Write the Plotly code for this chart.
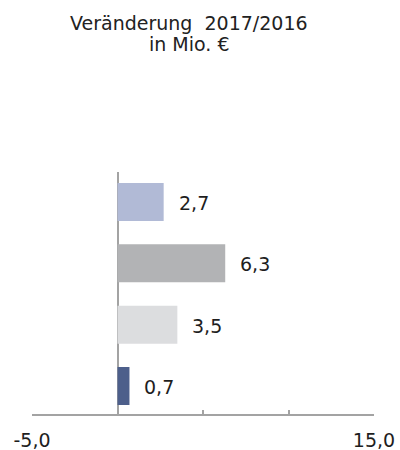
import plotly.graph_objects as go

# Data (bottom to top)
categories = ["Kategorie 4", "Kategorie 3", "Kategorie 2", "Kategorie 1"]
values = [0.7, 3.5, 6.3, 2.7]
value_labels = ["0,7", "3,5", "6,3", "2,7"]
bar_colors = ["#4d5f8b", "#dcdddf", "#b2b3b5", "#b1bad6"]
tick_values = [-5, 0, 5, 10, 15]
tick_labels = ["-5,0", "", "", "", "15,0"]
title_line1 = "Veränderung\u00a0 2017/2016"
title_line2 = "in Mio. €"

FONT = "DejaVu Sans"
AXIS_GRAY = "#a3a3a3"

fig = go.Figure()
fig.add_trace(go.Bar(
    x=values, y=categories, orientation="h",
    marker=dict(color=bar_colors, line=dict(width=0)),
    width=0.62, hoverinfo="skip", showlegend=False,
))

annotations = []
for v, c, t in zip(values, categories, value_labels):
    annotations.append(dict(
        x=v, y=c, xref="x", yref="y", text=t, showarrow=False,
        xanchor="left", yanchor="middle", xshift=13, yshift=-1,
        font=dict(family=FONT, size=19, color="#1e1e1e"),
    ))

# Title lines
annotations.append(dict(
    x=184 / 400, y=(414 - 23) / 242, xref="paper", yref="paper",
    text=title_line1, showarrow=False, xanchor="center", yanchor="middle",
    font=dict(family=FONT, size=19, color="#222222"),
))
annotations.append(dict(
    x=184 / 400, y=(414 - 44) / 242, xref="paper", yref="paper",
    text=title_line2, showarrow=False, xanchor="center", yanchor="middle",
    font=dict(family=FONT, size=19, color="#222222"),
))

fig.update_layout(
    width=400, height=450,
    margin=dict(l=32, r=26, t=172, b=36, pad=0, autoexpand=False),
    paper_bgcolor="white", plot_bgcolor="white",
    bargap=0.38,
    annotations=annotations,
    xaxis=dict(
        range=[-5, 15], tickmode="array", tickvals=tick_values, ticktext=tick_labels,
        showgrid=False, zeroline=True, zerolinecolor=AXIS_GRAY, zerolinewidth=1.5,
        showline=True, linecolor=AXIS_GRAY, linewidth=1.5,
        ticks="inside", ticklen=4, tickwidth=1.5, tickcolor=AXIS_GRAY,
        tickfont=dict(family=FONT, size=19, color="#1e1e1e"),
        ticklabelstandoff=8, fixedrange=True, automargin=False,
    ),
    yaxis=dict(
        type="category", categoryorder="array", categoryarray=categories,
        range=[-0.457, 3.49], showticklabels=False, showgrid=False,
        zeroline=False, showline=False, ticks="", fixedrange=True,
        automargin=False,
    ),
)

fig.write_html("out.html")
